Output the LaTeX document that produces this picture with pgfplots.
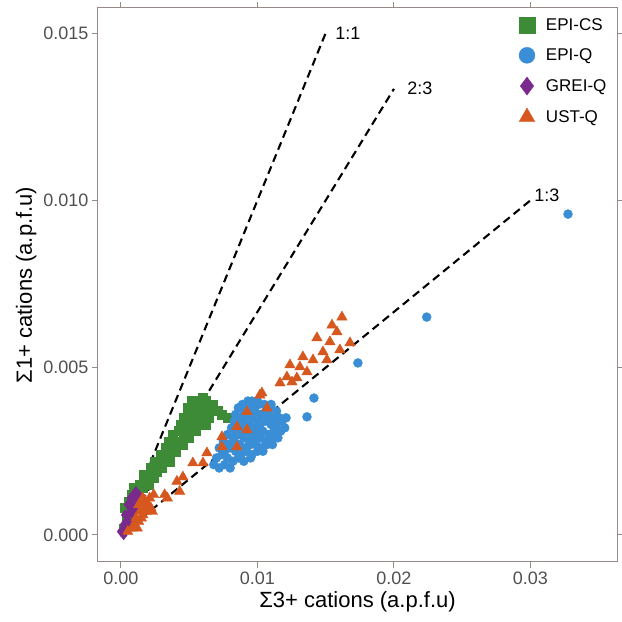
\documentclass[border=0pt]{standalone}
\usepackage{fontspec}
\setmainfont{Liberation Sans}
\usepackage{pgfplots}
\pgfplotsset{compat=1.18}
\usetikzlibrary{calc}
\definecolor{cgreen}{RGB}{61,139,55}
\definecolor{cblue}{RGB}{58,142,214}
\definecolor{cpurple}{RGB}{122,42,140}
\definecolor{corange}{RGB}{214,88,30}
\definecolor{cframe}{RGB}{150,138,136}
\definecolor{ctick}{RGB}{80,80,80}
\begin{document}
\begin{tikzpicture}
\begin{axis}[
  scale only axis, width=519pt, height=554pt,
  xmin=-0.00168, xmax=0.03634, ymin=-0.00081, ymax=0.01575,
  xtick={0,0.01,0.02,0.03}, xticklabels={0.00,0.01,0.02,0.03},
  ytick={0,0.005,0.01,0.015}, yticklabels={0.000,0.005,0.010,0.015},
  scaled ticks=false,
  tick align=outside, major tick length=6pt,
  tick style={color=cframe, line width=1pt},
  axis line style={color=cframe, line width=1pt},
  tick label style={font=\fontsize{18}{20}\selectfont, text=ctick},
  label style={font=\fontsize{22}{26}\selectfont},
  xlabel={Σ3+ cations (a.p.f.u)},
  ylabel={Σ1+ cations (a.p.f.u)},
  legend style={at={(rel axis cs:0.805,0.989)}, anchor=north west, draw=none, fill=none,
     font=\fontsize{17}{20}\selectfont, row sep=13pt, cells={anchor=west},
     /tikz/every odd column/.append style={column sep=9pt}},
]
\addlegendimage{only marks, mark=square*, mark size=8pt, color=cgreen}
\addlegendentry{EPI-CS}
\addlegendimage{only marks, mark=*, mark size=8pt, color=cblue}
\addlegendentry{EPI-Q}
\addlegendimage{only marks, mark=diamond*, mark size=9pt, color=cpurple}
\addlegendentry{GREI-Q}
\addlegendimage{only marks, mark=triangle*, mark size=9pt, color=corange}
\addlegendentry{UST-Q}

% EPI-CS
\addplot[forget plot, only marks, mark=square*, mark size=4.5pt, color=cgreen] coordinates {
(0.0002,0.0002)(0.0004,0.0005)(0.0003,0.0008)(0.0006,0.0010)(0.0008,0.0012)(0.0009,0.0014)
(0.0012,0.0013)(0.0014,0.0015)(0.0016,0.0014)(0.0018,0.0016)(0.0020,0.0015)(0.0017,0.0018)
(0.0021,0.0018)(0.0024,0.0017)(0.0022,0.0020)(0.0026,0.0019)(0.0028,0.0021)(0.0025,0.0022)
(0.0030,0.0020)(0.0032,0.0023)(0.0029,0.0024)(0.0034,0.0024)(0.0036,0.0022)(0.0033,0.0026)
(0.0037,0.0026)(0.0040,0.0025)(0.0035,0.0028)(0.0039,0.0028)(0.0042,0.0028)(0.0045,0.0027)
(0.0038,0.0030)(0.0042,0.0031)(0.0046,0.0030)(0.0050,0.0029)(0.0044,0.0033)(0.0048,0.0033)
(0.0052,0.0032)(0.0055,0.0031)(0.0046,0.0035)(0.0050,0.0036)(0.0054,0.0034)(0.0058,0.0034)
(0.0062,0.0033)(0.0049,0.0038)(0.0053,0.0038)(0.0056,0.0037)(0.0060,0.0036)(0.0064,0.0035)
(0.0054,0.0040)(0.0058,0.0039)(0.0062,0.0040)(0.0065,0.0038)(0.0067,0.0039)(0.0071,0.0037)
(0.0074,0.0036)(0.0078,0.0035)(0.0060,0.0041)(0.0052,0.0040)
};
% EPI-Q
\addplot[forget plot, only marks, mark=*, mark size=4.5pt, color=cblue] coordinates {
(0.0068,0.0021)(0.0072,0.0020)(0.0076,0.0021)(0.0080,0.0020)
(0.0070,0.0023)(0.0074,0.0024)(0.0078,0.0023)(0.0082,0.0022)(0.0086,0.0023)(0.0090,0.0022)(0.0095,0.0023)
(0.0072,0.0026)(0.0076,0.0025)(0.0080,0.0026)(0.0084,0.0025)(0.0088,0.0024)(0.0092,0.0025)(0.0096,0.0024)(0.0100,0.0025)(0.0104,0.0025)
(0.0075,0.0028)(0.0079,0.0027)(0.0083,0.0028)(0.0087,0.0027)(0.0091,0.0026)(0.0095,0.0027)(0.0099,0.0027)(0.0103,0.0026)(0.0107,0.0027)(0.0111,0.0027)
(0.0078,0.0030)(0.0082,0.0029)(0.0086,0.0030)(0.0090,0.0029)(0.0094,0.0028)(0.0098,0.0029)(0.0102,0.0029)(0.0106,0.0028)(0.0110,0.0029)(0.0115,0.0029)
(0.0081,0.0032)(0.0084,0.0031)(0.0088,0.0032)(0.0092,0.0031)(0.0096,0.0030)(0.0100,0.0031)(0.0104,0.0031)(0.0108,0.0030)(0.0112,0.0031)(0.0117,0.0031)(0.0120,0.0032)
(0.0083,0.0034)(0.0086,0.0033)(0.0090,0.0034)(0.0094,0.0033)(0.0098,0.0032)(0.0102,0.0033)(0.0106,0.0034)(0.0110,0.0033)(0.0114,0.0033)(0.0118,0.0034)
(0.0084,0.0036)(0.0088,0.0035)(0.0092,0.0036)(0.0096,0.0035)(0.0100,0.0034)(0.0104,0.0035)(0.0108,0.0036)(0.0112,0.0035)(0.0116,0.0035)(0.0121,0.0035)
(0.0086,0.0038)(0.0090,0.0037)(0.0094,0.0038)(0.0098,0.0037)(0.0102,0.0036)(0.0106,0.0037)(0.0110,0.0038)(0.0114,0.0037)
(0.0089,0.0039)(0.0093,0.0040)(0.0097,0.0039)(0.0101,0.0039)(0.0105,0.0039)(0.0110,0.0039)
(0.0096,0.0040)(0.0100,0.0040)
(0.01363,0.00353)(0.01414,0.00409)(0.01736,0.00514)(0.0224,0.00651)(0.03275,0.00959)
};
% GREI-Q
\addplot[forget plot, only marks, mark=diamond*, mark size=5pt, color=cpurple] coordinates {
(0.0001,0.0001)(0.0002,0.0003)(0.0003,0.0002)(0.0004,0.0004)(0.0005,0.0006)(0.0003,0.0006)
(0.0006,0.0004)(0.0007,0.0007)(0.0005,0.0009)(0.0008,0.0009)(0.0009,0.0006)(0.0010,0.0010)
(0.0007,0.0011)(0.0011,0.0008)(0.0012,0.0011)(0.0009,0.0012)(0.0013,0.0012)(0.0002,0.0000)
(0.0000,0.0001)(0.0011,0.0013)(0.0006,0.0002)
};
% UST-Q
\addplot[forget plot, only marks, mark=triangle*, mark size=6pt, color=corange] coordinates {
(0.0005,0.0001)(0.0008,0.0002)(0.0010,0.0003)(0.0012,0.0002)(0.0011,0.0005)(0.0013,0.0004)
(0.0015,0.0005)(0.0014,0.0007)(0.0016,0.0006)(0.0017,0.0008)(0.0013,0.0009)(0.0015,0.0010)
(0.0018,0.0010)(0.0016,0.0011)(0.0019,0.0007)(0.0020,0.0009)(0.0022,0.0008)(0.0021,0.0011)
(0.0024,0.0012)(0.0023,0.0007)
(0.0032,0.0012)(0.0034,0.0011)(0.0043,0.0013)(0.00454,0.00173)(0.0041,0.0016)
(0.00527,0.00215)(0.00601,0.00215)(0.0063,0.00245)(0.0074,0.00263)(0.0074,0.00293)
(0.0085,0.00263)(0.0085,0.00323)(0.00923,0.00314)(0.00923,0.00368)(0.0107,0.00379)
(0.01018,0.00418)(0.01033,0.00424)
(0.01165,0.00454)(0.01253,0.00457)(0.01216,0.00472)(0.01289,0.00469)(0.01363,0.00487)
(0.01238,0.00508)(0.01311,0.00502)(0.01333,0.00532)(0.01407,0.00523)(0.01509,0.00523)
(0.01480,0.00547)(0.01604,0.00553)(0.01531,0.00577)(0.01678,0.00574)(0.01436,0.00589)
(0.01582,0.00607)(0.01546,0.00627)(0.01619,0.00651)
};
% reference lines
\addplot[forget plot, black, line width=2.1pt, dash pattern=on 8pt off 5pt] coordinates {(0,0) (0.015,0.015)};
\addplot[forget plot, black, line width=2.1pt, dash pattern=on 8pt off 5pt] coordinates {(0,0) (0.02,0.013333)};
\addplot[forget plot, black, line width=2.1pt, dash pattern=on 8pt off 5pt] coordinates {(0,0) (0.03,0.01)};
\node[font=\fontsize{18}{20}\selectfont] at (axis cs:0.01663,0.0150) {1:1};
\node[font=\fontsize{18}{20}\selectfont] at (axis cs:0.0219,0.01336) {2:3};
\node[font=\fontsize{18}{20}\selectfont] at (axis cs:0.0312,0.01016) {1:3};
\end{axis}
\pgfresetboundingbox
\path ($(current axis.south west)+(-98pt,-60pt)$) rectangle ($(current axis.north east)+(5pt,8pt)$);
\end{tikzpicture}
\end{document}
